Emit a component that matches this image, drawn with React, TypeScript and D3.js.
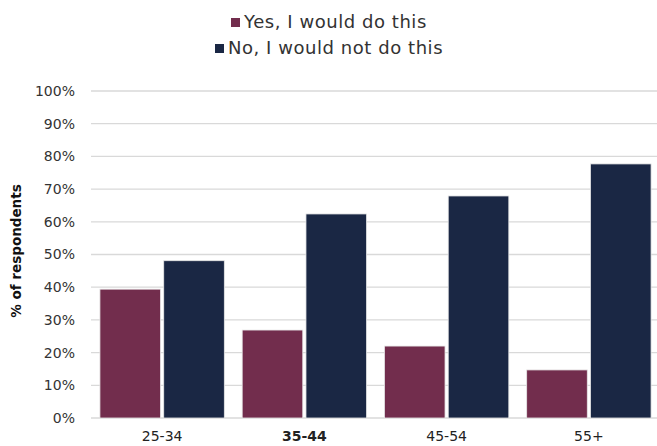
import React from "react";
import * as d3 from "d3";

const categories = ["25-34", "35-44", "45-54", "55+"];
const seriesNames = ["Yes, I would do this", "No, I would not do this"];
const yesValues = [39.4, 26.9, 22.0, 14.7];
const noValues = [48.1, 62.4, 67.9, 77.7];
const yTicks = [0, 10, 20, 30, 40, 50, 60, 70, 80, 90, 100];

const W = 657;
const H = 446;
const colors = ["#722D4D", "#1A2744"];
const font = "'DejaVu Sans', 'Open Sans', sans-serif";

export default function App() {
  const left = 91;
  const right = 660;
  const top = 91;
  const bottom = 418;
  const x = d3.scaleBand<string>().domain(categories).range([left, right]).paddingInner(0).paddingOuter(0);
  const y = d3.scaleLinear().domain([0, 100]).range([bottom, top]);
  const inner = d3.scaleBand<number>().domain([0, 1]).range([0, x.bandwidth()]).paddingInner(0.05).paddingOuter(0.14);
  const series = [yesValues, noValues];

  return (
    <svg width={W} height={H} style={{ display: "block", position: "absolute", left: 0, top: 0, background: "#fff" }}>
      {yTicks.map((t) => (
        <g key={t}>
          <line x1={left} x2={W} y1={y(t)} y2={y(t)} stroke="#d9d9d9" strokeWidth={1.3} />
          <text x={75} y={y(t)} dy="0.35em" textAnchor="end" fontFamily={font} fontSize={14} fill="#333">
            {t}%
          </text>
        </g>
      ))}
      {series.map((vals, si) =>
        categories.map((c, ci) => (
          <rect
            key={`${si}-${ci}`}
            x={(x(c) as number) + (inner(si) as number)}
            y={y(vals[ci])}
            width={inner.bandwidth()}
            height={y(0) - y(vals[ci])}
            fill={colors[si]}
            stroke="#e8e8e8"
            strokeWidth={0.8}
          />
        ))
      )}
      {categories.map((c, i) => (
        <text
          key={c}
          x={(x(c) as number) + x.bandwidth() / 2}
          y={441}
          textAnchor="middle"
          fontFamily={font}
          fontSize={14}
          fontWeight={i === 1 ? 700 : 400}
          fill="#222"
        >
          {c}
        </text>
      ))}
      <text
        transform={`translate(21, 251) rotate(-90)`}
        textAnchor="middle"
        fontFamily={font}
        fontSize={13.5}
        fontWeight={700}
        fill="#111"
      >
        % of respondents
      </text>
      {seriesNames.map((n, i) => {
        const lx = i === 0 ? 231 : 215;
        const ly = i === 0 ? 28 : 54;
        return (
          <g key={n}>
            <rect x={lx} y={ly - 10} width={9} height={9} fill={colors[i]} />
            <text x={lx + 13} y={ly} fontFamily={font} fontSize={18} letterSpacing={0.55} fill="#333">
              {n}
            </text>
          </g>
        );
      })}
    </svg>
  );
}
